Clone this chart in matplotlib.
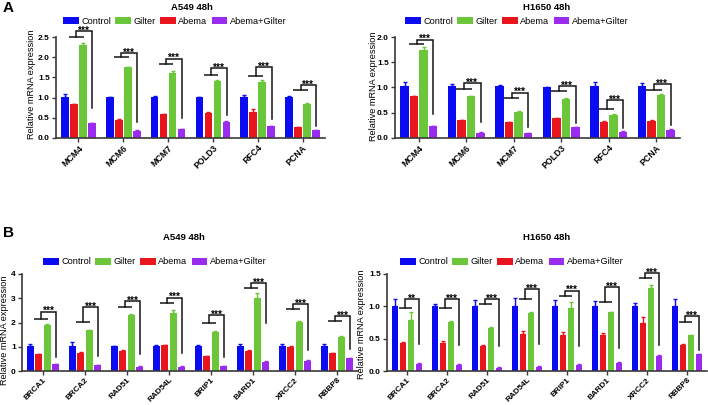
import matplotlib
matplotlib.use('Agg')
import matplotlib.pyplot as plt
from matplotlib.patches import Patch
import numpy as np

plt.rcParams['font.family'] = ['Liberation Sans', 'DejaVu Sans']

# ---------------- data ----------------
genes_a = ['MCM4', 'MCM6', 'MCM7', 'POLD3', 'RFC4', 'PCNA']
genes_b = ['BRCA1', 'BRCA2', 'RAD51', 'RAD54L', 'BRIP1', 'BARD1', 'XRCC2', 'RBBP8']
legend_labels = ['Control', 'Gilter', 'Abema', 'Abema+Gilter']

# Panel A, A549 48h
a1_ctrl = [1.02, 1.01, 1.01, 1.01, 1.02, 1.02]
a1_ctrl_err = [0.06, 0.01, 0.02, 0.01, 0.04, 0.03]
a1_abema = [0.83, 0.44, 0.58, 0.61, 0.65, 0.26]
a1_abema_err = [0.02, 0.02, 0.01, 0.02, 0.07, 0.01]
a1_gilter = [2.30, 1.75, 1.61, 1.41, 1.38, 0.84]
a1_gilter_err = [0.06, 0.02, 0.04, 0.02, 0.05, 0.03]
a1_combo = [0.36, 0.17, 0.21, 0.39, 0.29, 0.18]
a1_combo_err = [0.01, 0.01, 0.01, 0.02, 0.01, 0.01]
a1_low = [2.50, 2.00, 1.83, 1.56, 1.54, 1.20]
a1_top = [2.66, 2.11, 1.97, 1.73, 1.75, 1.31]
a1_drop = [0.73, 0.40, 0.49, 0.56, 0.46, 0.29]
a1_stars = ['***'] * 6

# Panel A, H1650 48h
a2_ctrl = [1.02, 1.02, 1.02, 1.01, 1.02, 1.02]
a2_ctrl_err = [0.08, 0.04, 0.03, 0.005, 0.09, 0.07]
a2_abema = [0.83, 0.35, 0.31, 0.39, 0.32, 0.34]
a2_abema_err = [0.01, 0.01, 0.01, 0.01, 0.01, 0.005]
a2_gilter = [1.75, 0.83, 0.52, 0.78, 0.46, 0.85]
a2_gilter_err = [0.06, 0.01, 0.01, 0.01, 0.02, 0.03]
a2_combo = [0.23, 0.10, 0.09, 0.21, 0.12, 0.16]
a2_combo_err = [0.005, 0.005, 0.005, 0.005, 0.01, 0.01]
a2_low = [1.87, 0.98, 0.80, 0.94, 0.57, 0.96]
a2_top = [1.95, 1.08, 0.90, 1.03, 0.75, 1.06]
a2_drop = [0.47, 0.31, 0.21, 0.29, 0.19, 0.25]
a2_stars = ['***'] * 6

# Panel B, A549 48h
b1_ctrl = [1.03, 1.03, 1.03, 1.03, 1.04, 1.05, 1.04, 1.04]
b1_ctrl_err = [0.08, 0.15, 0.01, 0.06, 0.02, 0.05, 0.08, 0.07]
b1_abema = [0.69, 0.75, 0.82, 1.07, 0.60, 0.82, 0.97, 0.75]
b1_abema_err = [0.01, 0.03, 0.03, 0.02, 0.02, 0.03, 0.05, 0.01]
b1_gilter = [1.90, 1.69, 2.31, 2.38, 1.62, 3.00, 2.01, 1.41]
b1_gilter_err = [0.03, 0.02, 0.03, 0.12, 0.01, 0.20, 0.05, 0.04]
b1_combo = [0.28, 0.24, 0.18, 0.18, 0.19, 0.38, 0.43, 0.52]
b1_combo_err = [0.01, 0.01, 0.01, 0.01, 0.01, 0.05, 0.01, 0.03]
b1_low = [2.14, 2.03, 2.65, 2.82, 2.00, 3.41, 2.56, 2.06]
b1_top = [2.45, 2.63, 2.89, 3.02, 2.30, 3.62, 2.75, 2.27]
b1_drop = [0.59, 0.63, 0.69, 0.73, 0.59, 2.00, 0.87, 0.90]
b1_stars = ['***'] * 8

# Panel B, H1650 48h
b2_ctrl = [1.01, 1.01, 1.01, 1.01, 1.01, 1.01, 1.01, 1.01]
b2_ctrl_err = [0.10, 0.03, 0.09, 0.12, 0.09, 0.07, 0.04, 0.11]
b2_abema = [0.44, 0.44, 0.39, 0.57, 0.55, 0.56, 0.74, 0.40]
b2_abema_err = [0.01, 0.02, 0.005, 0.05, 0.06, 0.02, 0.10, 0.01]
b2_gilter = [0.79, 0.76, 0.67, 0.90, 0.98, 0.91, 1.28, 0.55]
b2_gilter_err = [0.13, 0.02, 0.01, 0.01, 0.09, 0.005, 0.05, 0.01]
b2_combo = [0.11, 0.10, 0.05, 0.06, 0.10, 0.12, 0.23, 0.26]
b2_combo_err = [0.01, 0.01, 0.01, 0.01, 0.01, 0.02, 0.01, 0.01]
b2_low = [0.98, 0.97, 1.03, 1.12, 1.16, 1.06, 1.44, 0.76]
b2_top = [1.11, 1.11, 1.11, 1.27, 1.24, 1.30, 1.51, 0.85]
b2_drop = [0.41, 0.40, 0.39, 0.41, 0.38, 0.35, 0.40, 0.32]
b2_stars = ['**', '***', '***', '***', '***', '***', '***', '***']

# ---------------- styling ----------------
W, H = 708, 405
fig = plt.figure(figsize=(W / 100, H / 100), dpi=100)

COLORS = {'Control': '#0b0bf2', 'Abema': '#e8161c',
          'Gilter': '#6cc63a', 'Abema+Gilter': '#9b2cef'}
ORDER = ['Control', 'Abema', 'Gilter', 'Abema+Gilter']
OFFS = [-0.3, -0.1, 0.1, 0.3]
BW = 0.17


def rect(x0, y0, x1, y1):
    return [x0 / W, 1 - y1 / H, (x1 - x0) / W, (y1 - y0) / H]


def panel(box, genes, vals, errs, low, top, drop, stars, ymax, yticks, ylabels,
          title, title_xy, leg_xy, ylab_xy, xfs):
    ax = fig.add_axes(rect(*box))
    x = np.arange(len(genes))
    for k, name in enumerate(ORDER):
        v = np.array(vals[k])
        e = np.array(errs[k])
        ax.bar(x + OFFS[k], v, BW, color=COLORS[name], zorder=2,
               yerr=[np.zeros_like(e), e],
               error_kw=dict(ecolor=COLORS[name], elinewidth=1.0,
                             capsize=1.6, capthick=1.0))
    for i in range(len(genes)):
        ax.plot([i - 0.21, i + 0.12], [low[i], low[i]], color='#151515',
                lw=1.1, clip_on=False, zorder=3, solid_capstyle='butt')
        ax.plot([i - 0.045, i - 0.045, i + 0.31, i + 0.31],
                [low[i], top[i], top[i], drop[i]], color='#151515', lw=1.1,
                clip_on=False, zorder=3, solid_joinstyle='miter')
        ax.annotate(stars[i], xy=(i + 0.13, top[i]), xytext=(0, -1.8),
                    textcoords='offset points', ha='center', va='baseline',
                    fontsize=7.2, fontweight='bold', annotation_clip=False)
    ax.set_xlim(-0.5, len(genes) - 0.5)
    ax.set_ylim(0, ymax)
    ax.set_yticks(yticks)
    ax.set_yticklabels(ylabels, fontsize=6, fontweight='bold')
    ax.set_xticks(x)
    ax.set_xticklabels(genes, rotation=45, ha='right', rotation_mode='anchor',
                       fontsize=xfs, fontweight='bold')
    for s in ['top', 'right']:
        ax.spines[s].set_visible(False)
    for s in ['left', 'bottom']:
        ax.spines[s].set_linewidth(1.2)
        ax.spines[s].set_color('#3a3a3a')
    ax.tick_params(axis='y', length=3, width=1.0, color='#3a3a3a', pad=1.5)
    ax.tick_params(axis='x', length=3, width=1.0, color='#3a3a3a', pad=1.0)
    fig.text(title_xy[0] / W, 1 - title_xy[1] / H, title, ha='center',
             va='center', fontsize=6.8, fontweight='bold')
    fig.text(ylab_xy[0] / W, 1 - ylab_xy[1] / H, 'Relative mRNA expression',
             rotation=90, ha='center', va='center', fontsize=6.6)
    handles = [Patch(facecolor=COLORS[n], edgecolor='none') for n in legend_labels]
    ax.legend(handles, legend_labels, ncol=4, loc='center left',
              bbox_to_anchor=(leg_xy[0] / W, 1 - leg_xy[1] / H),
              bbox_transform=fig.transFigure, frameon=False, fontsize=6.6,
              handlelength=1.7, handleheight=0.85, handletextpad=0.3,
              columnspacing=0.45, borderpad=0, borderaxespad=0)
    return ax


panel((56, 37.3, 325, 137.7), genes_a,
      [a1_ctrl, a1_abema, a1_gilter, a1_combo],
      [a1_ctrl_err, a1_abema_err, a1_gilter_err, a1_combo_err],
      a1_low, a1_top, a1_drop, a1_stars, 2.5,
      [0, 0.5, 1.0, 1.5, 2.0, 2.5], ['0.0', '0.5', '1.0', '1.5', '2.0', '2.5'],
      'A549 48h', (192, 7), (63, 21), (32, 84), 6.3)

panel((395, 37.3, 680, 137.7), genes_a,
      [a2_ctrl, a2_abema, a2_gilter, a2_combo],
      [a2_ctrl_err, a2_abema_err, a2_gilter_err, a2_combo_err],
      a2_low, a2_top, a2_drop, a2_stars, 2.0,
      [0, 0.5, 1.0, 1.5, 2.0], ['0.0', '0.5', '1.0', '1.5', '2.0'],
      'H1650 48h', (547, 7), (405, 21), (373, 86), 6.3)

panel((22, 274, 358, 371), genes_b,
      [b1_ctrl, b1_abema, b1_gilter, b1_combo],
      [b1_ctrl_err, b1_abema_err, b1_gilter_err, b1_combo_err],
      b1_low, b1_top, b1_drop, b1_stars, 4,
      [0, 1, 2, 3, 4], ['0', '1', '2', '3', '4'],
      'A549 48h', (184, 238), (43, 262), (5, 330), 5.9)

panel((387, 274, 707, 371), genes_b,
      [b2_ctrl, b2_abema, b2_gilter, b2_combo],
      [b2_ctrl_err, b2_abema_err, b2_gilter_err, b2_combo_err],
      b2_low, b2_top, b2_drop, b2_stars, 1.5,
      [0, 0.5, 1.0, 1.5], ['0.0', '0.5', '1.0', '1.5'],
      'H1650 48h', (547, 238), (400, 262), (361, 324), 5.9)

fig.text(3 / W, 1 - 8 / H, 'A', fontsize=11, fontweight='bold', va='center')
fig.text(3 / W, 1 - 233 / H, 'B', fontsize=11, fontweight='bold', va='center')

fig.savefig('out.png', dpi=100)
